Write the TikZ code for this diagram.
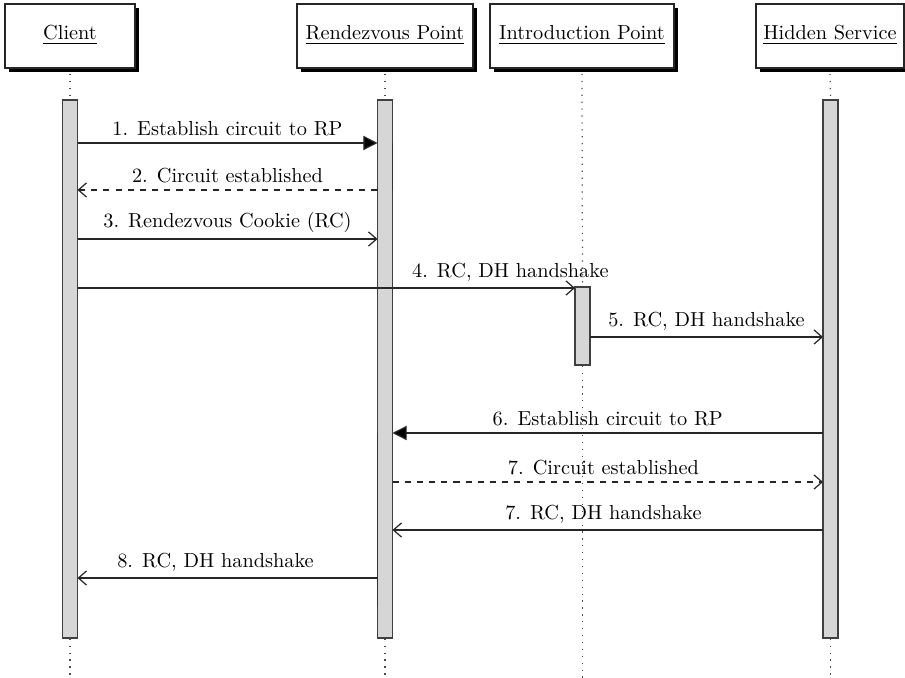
\documentclass[tikz,border=0pt]{standalone}
\usetikzlibrary{arrows.meta,shadows}
\begin{document}
\begin{tikzpicture}[x=0.4925pt,y=-0.4925pt,
  actor/.style={draw=black!85,line width=0.6pt,fill=white,minimum height=64*0.4925pt,
    inner sep=0pt,drop shadow={fill=black,opacity=1,shadow xshift=2pt,shadow yshift=-2pt}},
  actorname/.style={inner sep=0pt},
  lifeline/.style={draw=black!70,line width=0.6pt,dash pattern=on 0.6pt off 2.8pt},
  bar/.style={draw=black!75,line width=0.75pt,fill=black!16,minimum width=15*0.4925pt,inner sep=0pt},
  nested/.style={draw=black!80,line width=0.6pt},
  msg/.style={draw=black!85,line width=0.6pt},
  call/.style={msg,-{Triangle[length=7pt,width=7pt,fill=black]}},
  ret/.style={msg,dashed,-{Straight Barb[length=4pt,width=7pt]}},
  send/.style={msg,-{Straight Barb[length=4pt,width=7pt]}},
  lbl/.style={above,inner sep=3pt}]
\useasboundingbox (0,0) rectangle (905,678);

% actors
\node[actor,minimum width=130*0.4925pt] (client) at (70,36) {};
\node[actor,minimum width=176*0.4925pt] (rp) at (385,36) {};
\node[actor,minimum width=184*0.4925pt] (ip) at (582,36) {};
\node[actor,minimum width=148*0.4925pt] (hs) at (830,36) {};
\node[actorname] (clientname) at (70,35) {\underline{Client}};
\node[actorname] (rpname) at (385,35) {\underline{Rendezvous Point}};
\node[actorname] (ipname) at (582,35) {\underline{Introduction Point}};
\node[actorname] (hsname) at (830,35) {\underline{Hidden Service}};

% activation bars
\node[bar,minimum height=538*0.4925pt] (barc) at (70,369) {};
\node[bar,minimum height=538*0.4925pt] (barrp) at (385,369) {};
\node[bar,minimum height=78*0.4925pt] (barip) at (582.5,326) {};
\node[bar,minimum height=538*0.4925pt] (barhs) at (830.5,369) {};

% lifelines
\coordinate (cend) at (70,678);
\coordinate (rpend) at (385,678);
\coordinate (ipend) at (582.5,678);
\coordinate (hsend) at (830.5,678);
\draw[lifeline] (client.south |- 0,74) -- (barc.north);
\draw[lifeline] (barc.south) -- (cend);
\draw[lifeline] (rp.south |- 0,74) -- (barrp.north);
\draw[lifeline] (barrp.south) -- (rpend);
\draw[lifeline] (ip.south |- 0,74) -- (barip.north);
\draw[lifeline] (barip.south) -- (ipend);
\draw[lifeline] (hs.south |- 0,74) -- (barhs.north);
\draw[lifeline] (barhs.south) -- (hsend);

% nested activation edges on the rendezvous point
\coordinate (n1a) at (392.5,143);
\coordinate (n1b) at (392.5,190);
\coordinate (n2a) at (377.5,433);
\coordinate (n2b) at (377.5,606);
\draw[nested] (n1a) -- (n1b);
\draw[nested] (n2a) -- (n2b);

% message end points
\coordinate (c1) at (77.5,143);   \coordinate (r1) at (377.5,143);
\coordinate (c2) at (77.5,190);   \coordinate (r2) at (377.5,190);
\coordinate (c3) at (77.5,239);   \coordinate (r3) at (377.5,239);
\coordinate (c4) at (77.5,288);   \coordinate (i4) at (575,288);
\coordinate (i5) at (590,337);    \coordinate (h5) at (823,337);
\coordinate (h6) at (823,433);    \coordinate (r6) at (392.5,433);
\coordinate (r7) at (392.5,482);  \coordinate (h7) at (823,482);
\coordinate (h8) at (823,530);    \coordinate (r8) at (392.5,530);
\coordinate (r9) at (377.5,578);  \coordinate (c9) at (77.5,578);

% messages
\draw[call] (c1) -- node[lbl] {1. Establish circuit to RP} (r1);
\draw[ret]  (r2) -- node[lbl] {2. Circuit established} (c2);
\draw[send] (c3) -- node[lbl] {3. Rendezvous Cookie (RC)} (r3);
\draw[send] (c4) -- node[lbl,pos=0.87] {4. RC, DH handshake} (i4);
\draw[send] (i5) -- node[lbl] {5. RC, DH handshake} (h5);
\draw[call] (h6) -- node[lbl] {6. Establish circuit to RP} (r6);
\draw[ret]  (r7) -- node[lbl,pos=0.49] {7. Circuit established} (h7);
\draw[send] (h8) -- node[lbl,pos=0.51] {7. RC, DH handshake} (r8);
\draw[send] (r9) -- node[lbl,pos=0.54] {8. RC, DH handshake} (c9);
\end{tikzpicture}
\end{document}
